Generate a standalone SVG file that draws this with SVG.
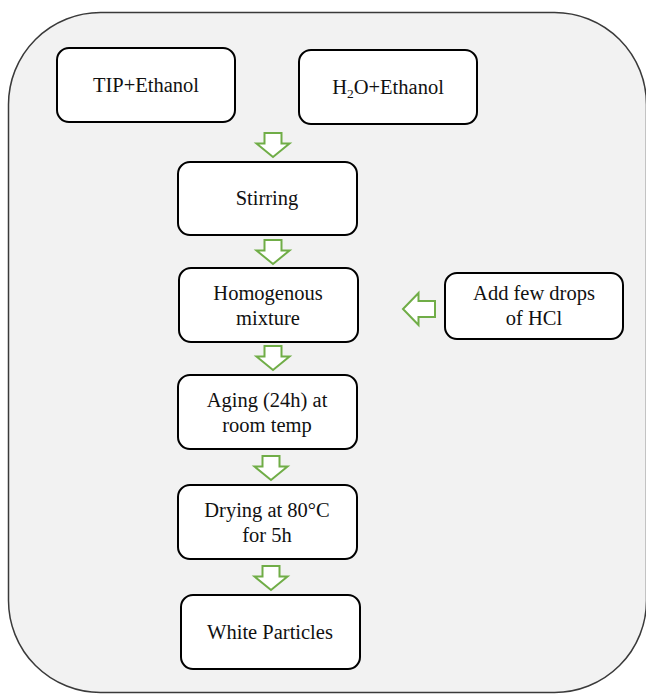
<svg xmlns="http://www.w3.org/2000/svg" width="646" height="694" viewBox="0 0 646 694">
<style>
.bg{fill:#f2f2f2;stroke:#3a3a3a;stroke-width:1.5}
.box{fill:#ffffff;stroke:#000000;stroke-width:2}
.t{font-family:'Liberation Serif','Times New Roman','DejaVu Serif',serif;font-size:20.5px;fill:#111111;text-anchor:middle}
.arr{fill:#ffffff;stroke:#70ad47;stroke-width:2;stroke-linejoin:miter}
</style>
<defs>
<path id="darr" d="M-8.5,0 H8.5 V10.5 H16.5 L0,24 L-16.5,10.5 H-8.5 Z"/>
<path id="larr" d="M32,-8 H15.5 V-16 L0,0 L15.5,16 V8 H32 Z"/>
</defs>
<rect class="bg" x="8.5" y="12.5" width="638" height="680" rx="92" ry="92"/>
<g id="n-tip"><rect class="box" x="57" y="48" width="178" height="74" rx="12"/><text class="t" font-family="Liberation Serif, serif" x="146" y="92">TIP+Ethanol</text></g>
<g id="n-h2o"><rect class="box" x="299" y="50" width="178" height="74" rx="12"/><text class="t" font-family="Liberation Serif, serif" x="388" y="94">H<tspan font-size="13.5px" dy="4">2</tspan><tspan dy="-4">O+Ethanol</tspan></text></g>
<g id="n-stir"><rect class="box" x="178" y="162" width="179" height="73" rx="12"/><text class="t" font-family="Liberation Serif, serif" x="267" y="205">Stirring</text></g>
<g id="n-homo"><rect class="box" x="179" y="268" width="179" height="74" rx="12"/><text class="t" font-family="Liberation Serif, serif" x="268" y="300">Homogenous</text><text class="t" font-family="Liberation Serif, serif" x="268" y="325">mixture</text></g>
<g id="n-hcl"><rect class="box" x="445" y="273" width="178" height="66" rx="12"/><text class="t" font-family="Liberation Serif, serif" x="534" y="300">Add few drops</text><text class="t" font-family="Liberation Serif, serif" x="534" y="325">of HCl</text></g>
<g id="n-aging"><rect class="box" x="178" y="375" width="179" height="74" rx="12"/><text class="t" font-family="Liberation Serif, serif" x="267" y="407">Aging (24h) at</text><text class="t" font-family="Liberation Serif, serif" x="267" y="432">room temp</text></g>
<g id="n-dry"><rect class="box" x="178" y="485" width="179" height="74" rx="12"/><text class="t" font-family="Liberation Serif, serif" x="267" y="517">Drying at 80°C</text><text class="t" font-family="Liberation Serif, serif" x="267" y="542">for 5h</text></g>
<g id="n-white"><rect class="box" x="181" y="595" width="179" height="74" rx="12"/><text class="t" font-family="Liberation Serif, serif" x="270" y="639">White Particles</text></g>
<g id="connectors">
<use href="#darr" class="arr" x="273" y="133"/>
<use href="#darr" class="arr" x="273" y="240"/>
<use href="#darr" class="arr" x="273" y="346"/>
<use href="#darr" class="arr" x="271" y="456"/>
<use href="#darr" class="arr" x="271" y="566"/>
<use href="#larr" class="arr" x="403" y="309"/>
</g>
</svg>
